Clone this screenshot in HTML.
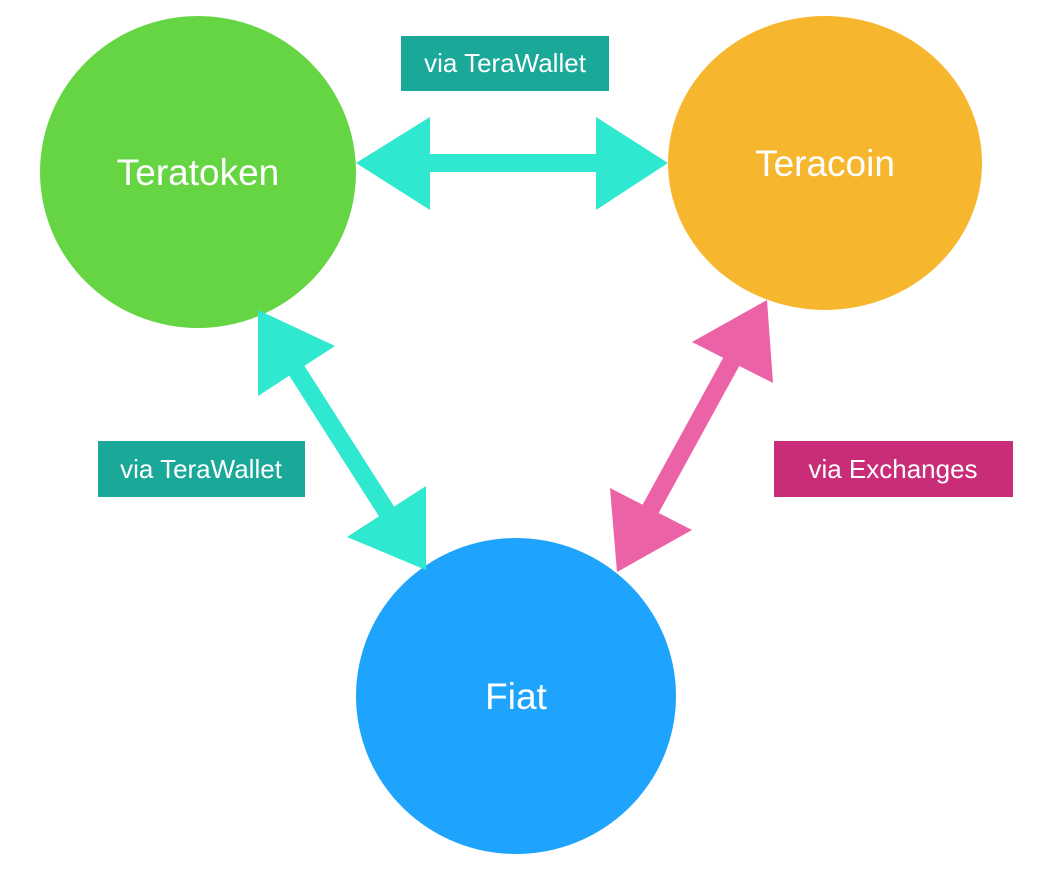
<!DOCTYPE html>
<html><head><meta charset="utf-8"><style>
html,body{margin:0;padding:0;background:#fff;}
svg{display:block;}
text{font-family:"Liberation Sans",sans-serif;fill:#fff;}
</style></head><body>
<svg width="1046" height="876" viewBox="0 0 1046 876" xmlns="http://www.w3.org/2000/svg">
<ellipse cx="198" cy="172" rx="158" ry="156" fill="#66d544"/>
<ellipse cx="825" cy="163" rx="157" ry="147" fill="#f6b72e"/>
<ellipse cx="516" cy="696" rx="160" ry="158" fill="#1ea4fd"/>
<text x="198" y="185" font-size="37" text-anchor="middle">Teratoken</text>
<text x="825" y="176" font-size="37" text-anchor="middle">Teracoin</text>
<text x="516" y="709" font-size="37" text-anchor="middle">Fiat</text>

<line x1="425" y1="163" x2="600" y2="163" stroke="#2ee8d0" stroke-width="18"/>
<polygon points="356,163 430,117 430,210" fill="#2ee8d0"/>
<polygon points="668,163 596,117 596,210" fill="#2ee8d0"/>

<line x1="290" y1="360" x2="392" y2="520" stroke="#2ee8d0" stroke-width="18"/>
<polygon points="258,310 258,396 335,346" fill="#2ee8d0"/>
<polygon points="426,570 347,537 426,486" fill="#2ee8d0"/>

<line x1="735" y1="355" x2="650" y2="510" stroke="#ec62a6" stroke-width="18"/>
<polygon points="767,300 692,342 773,383" fill="#ec62a6"/>
<polygon points="617,572 610,488 692,530" fill="#ec62a6"/>

<rect x="401" y="36" width="208" height="55" fill="#1aa898"/>
<text x="505" y="72" font-size="26" text-anchor="middle">via TeraWallet</text>
<rect x="98" y="441" width="207" height="56" fill="#1aa898"/>
<text x="201" y="478" font-size="26" text-anchor="middle">via TeraWallet</text>
<rect x="774" y="441" width="239" height="56" fill="#c92d78"/>
<text x="893" y="478" font-size="26" text-anchor="middle">via Exchanges</text>
</svg>
</body></html>
